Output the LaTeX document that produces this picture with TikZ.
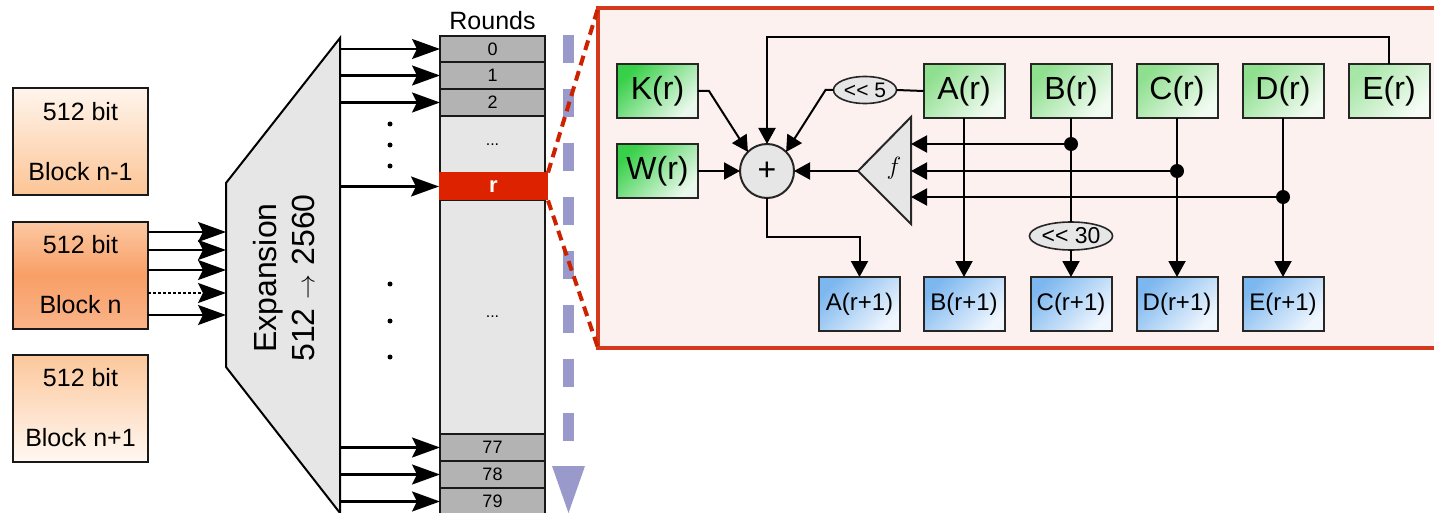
\documentclass[tikz,border=0pt]{standalone}
\usepackage{fontspec}
\setmainfont{Liberation Sans}
\usetikzlibrary{arrows.meta,calc,shapes.geometric}
\definecolor{bnAt}{HTML}{FFF5EC}
\definecolor{bnAb}{HTML}{FCC495}
\definecolor{bnBt}{HTML}{FCC9A3}
\definecolor{bnBm}{HTML}{F89F66}
\definecolor{bnBb}{HTML}{FAB389}
\definecolor{bnCt}{HTML}{FCC79B}
\definecolor{bnCb}{HTML}{FFF8F2}
\definecolor{lgray}{HTML}{E6E6E6}
\definecolor{dgray}{HTML}{B3B3B3}
\definecolor{rred}{HTML}{DD2200}
\definecolor{lav}{HTML}{9999CC}
\definecolor{dred}{HTML}{CC2200}
\definecolor{pfill}{HTML}{FDF1F0}
\definecolor{pborder}{HTML}{D4391C}
\definecolor{gK}{HTML}{38D048}
\definecolor{gKl}{HTML}{EAF8EC}
\definecolor{gA}{HTML}{8EDF8E}
\definecolor{gAl}{HTML}{F2FBF2}
\definecolor{gE}{HTML}{A6E6A6}
\definecolor{gEl}{HTML}{F6FCF6}
\definecolor{bA}{HTML}{7DB7EF}
\definecolor{bAl}{HTML}{EFF6FE}
\begin{document}
\begin{tikzpicture}[x=1pt,y=-1pt,
  every node/.style={inner sep=0pt, outer sep=0pt},
  bigarr/.style={line width=2.4pt, -{Stealth[length=28pt,width=20pt,inset=5pt]}},
  arr/.style={line width=2pt, -{Triangle[length=16pt,width=17pt]}},
  ln/.style={line width=2pt},
  blockbox/.style={draw=black!90, line width=2pt, minimum width=135pt, minimum height=107pt, align=center, font=\fontsize{25}{60}\selectfont},
  cell/.style={draw=black!90, line width=2pt, minimum width=105pt, fill=dgray, font=\fontsize{18}{18}\selectfont},
  lcell/.style={draw=black!90, line width=2pt, minimum width=105pt, fill=lgray, font=\fontsize{16}{16}\selectfont},
  gbox/.style={draw=black!85, line width=2pt, minimum width=81pt, minimum height=54pt, font=\fontsize{32}{32}\selectfont},
  bbox/.style={draw=black!85, line width=2pt, minimum width=81pt, minimum height=54pt, font=\fontsize{24}{24}\selectfont, top color=bA, bottom color=bAl, shading angle=45},
  shiftell/.style={ellipse, draw=black!85, line width=1.6pt, fill=lgray},
  reddash/.style={dred, line width=4pt, dash pattern=on 10pt off 6pt},
  jdot/.style={circle, fill=black, minimum size=14pt}
]
\useasboundingbox (0,0) rectangle (1434,513);

% input blocks
\node[blockbox, top color=bnAt, bottom color=bnAb] (b1) at (80.5,142) {512 bit\\Block n-1};
\node[blockbox, top color=bnBt, bottom color=bnBb, middle color=bnBm] (b2) at (80.5,275) {512 bit\\Block n};
\node[blockbox, top color=bnCt, bottom color=bnCb] (b3) at (80.5,408) {512 bit\\Block n+1};

% expansion
\draw[fill=lgray, line width=2pt] (340,38) -- (226,183) -- (226,367) -- (340,513) -- cycle;
\coordinate (expL) at (226,275);
\coordinate (expR) at (340,275);
\node[rotate=90, align=center, font=\fontsize{32}{38}\selectfont] (exptxt) at (284,278) {Expansion\\512 $\rightarrow$ 2560};

\foreach \yy in {232,250,270,315} \draw[bigarr] (b2.east |- 0,\yy) -- (expL |- 0,\yy);
\draw[bigarr, dash pattern=on 2.5pt off 2.5pt] (b2.east |- 0,293) -- (expL |- 0,293);

% rounds
\node[font=\fontsize{25}{25}\selectfont] (rlabel) at (492.5,21) {Rounds};
\node[cell, minimum height=26pt] (c0) at (492.5,49) {0};
\node[cell, minimum height=27pt] (c1) at (492.5,75.5) {1};
\node[cell, minimum height=27pt] (c2) at (492.5,102.5) {2};
\node[lcell, minimum height=57pt] (d1) at (492.5,144.5) {...};
\node[lcell, minimum height=234pt] (d2) at (492.5,317) {...};
\node[cell, minimum height=27pt] (c77) at (492.5,447.5) {77};
\node[cell, minimum height=27pt] (c78) at (492.5,474.5) {78};
\node[cell, minimum height=27pt] (c79) at (492.5,501.5) {79};
\node[fill=rred, text=white, minimum width=109pt, minimum height=28pt, font=\bfseries\fontsize{22}{22}\selectfont] (cr) at (493.5,186.5) {r};

\foreach \c in {c0,c1,c2,cr,c77,c78,c79} \draw[bigarr] (\c.west -| expR) -- (\c.west);
\foreach \yy in {124,145,166,284,321,357} \fill (390,\yy) circle (2.5);

% progress arrow
\coordinate (lavA) at (568.5,35);
\coordinate (lavB) at (568.5,442);
\draw[lav, line width=11pt, dash pattern=on 28pt off 26pt] (lavA) -- (lavB);
\fill[lav] (552,466) -- (585,466) -- (568.5,513) -- cycle;

% panel
\node[draw=pborder, fill=pfill, line width=4pt, minimum width=850pt, minimum height=340pt, anchor=north west] (panel) at (598,8) {};
\draw[reddash] (cr.north east) -- (panel.north west);
\draw[reddash] (cr.south east) -- (panel.south west);

% panel content
\node[gbox, top color=gK, bottom color=gKl, shading angle=45] (K) at (657.5,91) {K(r)};
\node[gbox, top color=gK, bottom color=gKl, shading angle=45] (W) at (657.5,171) {W(r)};
\node[gbox, top color=gA, bottom color=gAl, shading angle=45] (A) at (964,91) {A(r)};
\node[gbox, top color=gA, bottom color=gAl, shading angle=45] (B) at (1071,91) {B(r)};
\node[gbox, top color=gA, bottom color=gAl, shading angle=45] (C) at (1177,91) {C(r)};
\node[gbox, top color=gA, bottom color=gAl, shading angle=45] (D) at (1283,91) {D(r)};
\node[gbox, top color=gE, bottom color=gEl, shading angle=45] (E) at (1389,91) {E(r)};

\node[bbox] (A1) at (859.5,304) {A(r+1)};
\node[bbox] (B1) at (964,304) {B(r+1)};
\node[bbox] (C1) at (1071,304) {C(r+1)};
\node[bbox] (D1) at (1177,304) {D(r+1)};
\node[bbox] (E1) at (1283,304) {E(r+1)};

\node[circle, draw=black!85, line width=2pt, fill=lgray, minimum size=54pt, font=\fontsize{32}{32}\selectfont] (plus) at (767,171) {+};
\node[shiftell, minimum width=63pt, minimum height=27pt, font=\fontsize{21}{21}\selectfont] (sh5) at (865,90) {<{}< 5};
\node[shiftell, minimum width=80pt, minimum height=28pt, font=\fontsize{23}{23}\selectfont] (sh30) at (1071,236) {<{}< 30};

\draw[line width=2pt, fill=lgray, draw=black!85] (858,171) -- (911,117) -- (911,224) -- cycle;
\coordinate (ftip) at (858,171);
\coordinate (fbase) at (911,171);
\node[font=\fontsize{40}{40}\selectfont] (flab) at (894,168) {$f$};

\coordinate (topY) at (0,37);
\coordinate (midY) at (0,237);
\draw[arr] (E.north) |- (plus.north |- topY) -- (plus.north);
\draw[arr] (K.east) -- ++(11,0) -- (plus.135);
\draw[arr] (sh5.west) -- ++(-8,0) -- (plus.45);
\draw[ln] (A.west) -- (sh5.east);
\draw[arr] (W.east) -- (plus.west);
\draw[arr] (ftip) -- (plus.east);
\draw[arr] (plus.south) -- (plus.south |- midY) -| (A1.north);
\draw[arr] (A.south) -- (B1.north);

\node[jdot] (bd) at (1071,144) {};
\node[jdot] (cd) at (1177,171) {};
\node[jdot] (dd) at (1283,197) {};
\draw[ln] (B.south) -- (sh30.north);
\draw[arr] (sh30.south) -- (C1.north);
\draw[arr] (C.south) -- (D1.north);
\draw[arr] (D.south) -- (E1.north);
\draw[arr] (bd.center) -- (bd -| fbase);
\draw[arr] (cd.center) -- (cd -| fbase);
\draw[arr] (dd.center) -- (dd -| fbase);
\end{tikzpicture}
\end{document}
